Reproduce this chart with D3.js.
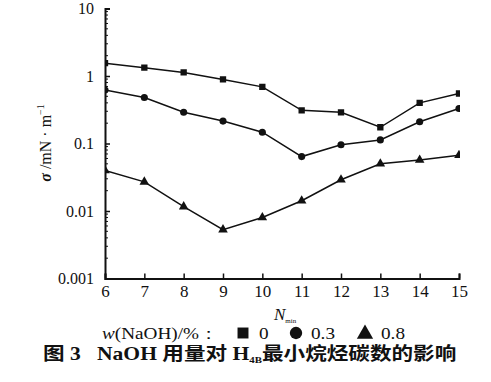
<!DOCTYPE html>
<html><head><meta charset="utf-8">
<script src="https://cdn.jsdelivr.net/npm/d3@7"></script>
<style>body{margin:0;background:#fff}svg{display:block}</style>
</head><body>
<svg id="c" width="491" height="382"></svg>
<script>
const nValues = [6,7,8,9,10,11,12,13,14,15];
const seriesNames = ["0","0.3","0.8"];
const s0 = [1.55,1.33,1.13,0.89,0.69,0.31,0.29,0.174,0.40,0.55];
const s03 = [0.62,0.48,0.29,0.215,0.147,0.064,0.096,0.113,0.21,0.33];
const s08 = [0.040,0.027,0.0116,0.0053,0.008,0.0142,0.029,0.050,0.057,0.067];
const yTickLabels = ["0.001","0.01","0.1","1","10"];
const yTickValues = [0.001,0.01,0.1,1,10];

const SERIF = "'Liberation Serif','Times New Roman','DejaVu Serif',serif";
const svg = d3.select("#c");
const L=105, R=459, T=8.5, B=278.5;
const x = d3.scaleLinear().domain([6,15]).range([L,R]);
const y = d3.scaleLog().domain([0.001,10]).range([B,T]);

const minor=[];
for(let d=-3; d<1; d++) for(let k=2;k<=9;k++) minor.push(k*Math.pow(10,d));
svg.append("g").selectAll("line").data(minor).join("line")
  .attr("x1",L).attr("x2",L+3).attr("y1",d=>y(d)).attr("y2",d=>y(d))
  .attr("stroke","#111").attr("stroke-width",1);

const yAxis = d3.axisLeft(y).tickValues(yTickValues).tickSize(-5).tickPadding(11)
  .tickFormat((d,i)=>yTickLabels[i]);
const gy = svg.append("g").attr("transform",`translate(${L},0)`).call(yAxis);
gy.select(".domain").attr("stroke","#111").attr("stroke-width",2);
gy.selectAll(".tick line").attr("stroke","#111").attr("stroke-width",1.5);
gy.selectAll(".tick text").style("font-size","16px").style("font-family",SERIF).attr("fill","#111");

const xAxis = d3.axisBottom(x).tickValues(nValues).tickSize(-5).tickPadding(5).tickFormat(d3.format("d"));
const gx = svg.append("g").attr("transform",`translate(0,${B})`).call(xAxis);
gx.select(".domain").attr("stroke","#111").attr("stroke-width",2);
gx.selectAll(".tick line").attr("stroke","#111").attr("stroke-width",1.5);
gx.selectAll(".tick text").style("font-size","17px").style("font-family",SERIF).attr("fill","#111").attr("dy","0.8em");

svg.append("defs").append("clipPath").attr("id","clip").append("rect")
  .attr("x",L).attr("y",0).attr("width",R-L+1).attr("height",B);

const data = [s0,s03,s08];
const shapes = [d3.symbolSquare,d3.symbolCircle,d3.symbolTriangle];
const line = d3.line().x((d,i)=>x(nValues[i])).y(d=>y(d));
const gp = svg.append("g").attr("clip-path","url(#clip)");
data.forEach((s,j)=>{
  gp.append("path").datum(s).attr("d",line).attr("fill","none").attr("stroke","#111").attr("stroke-width",1.5);
  gp.append("g").selectAll("path").data(s).join("path")
    .attr("transform",(d,i)=>`translate(${x(nValues[i])},${y(d)})`)
    .attr("d",d3.symbol().type(shapes[j]).size(40)).attr("fill","#111");
});

function txt(sel){ return sel.style("font-family",SERIF).attr("fill","#111"); }

const yl = txt(svg.append("text")).attr("transform","translate(51,143) rotate(-90)")
  .attr("text-anchor","middle").style("font-size","16px");
yl.append("tspan").attr("font-style","italic").attr("font-weight","bold").text("σ");
yl.append("tspan").text(" /mN · m");
yl.append("tspan").style("font-size","10px").attr("dy",-7).text("−1");

const xl = txt(svg.append("text")).attr("x",274).attr("y",320).style("font-size","17px");
xl.append("tspan").attr("font-style","italic").text("N");
xl.append("tspan").style("font-size","7px").attr("dy",3).text("min");

const ly=333, SX=1.2;
const lg = svg.append("g");
const lt = txt(lg.append("text")).attr("transform",`translate(102,${ly+6}) scale(${SX},1)`).style("font-size","16px");
lt.append("tspan").attr("font-style","italic").text("w");
lt.append("tspan").text("(NaOH)/%：");
const legX=[243,296,365], legTX=[259,311,381];
seriesNames.forEach((n,j)=>{
  lg.append("path").attr("transform",`translate(${legX[j]},${ly+(j===2?1:0)})`)
    .attr("d",d3.symbol().type(shapes[j]).size(j===2?115:120)).attr("fill","#111");
  txt(lg.append("text")).attr("transform",`translate(${legTX[j]},${ly+6}) scale(${SX},1)`)
    .style("font-size","16px").text(n);
});

const cap = svg.append("text").attr("transform",`translate(43,360) scale(1.2,1)`)
  .style("font-size","18px").attr("font-weight","bold")
  .attr("fill","#111").style("font-family","'Liberation Serif','Noto Sans CJK SC',serif");
cap.append("tspan").text("图 3\u00a0\u00a0\u00a0NaOH 用量对 H");
cap.append("tspan").style("font-size","9px").attr("dy",3).text("4B");
cap.append("tspan").attr("dy",-3).text("最小烷烃碳数的影响");
</script>
</body></html>
